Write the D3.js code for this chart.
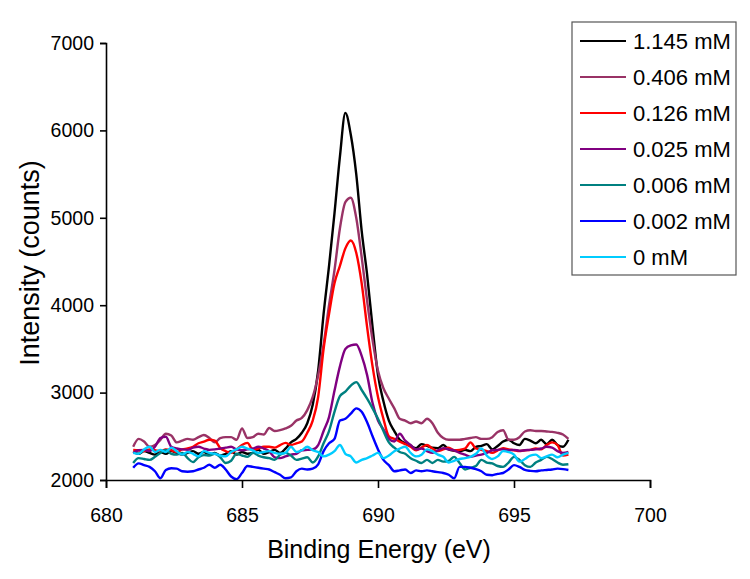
<!DOCTYPE html>
<html>
<head>
<meta charset="utf-8">
<script src="https://cdn.jsdelivr.net/npm/d3@7"></script>
<style>
  html, body { margin: 0; padding: 0; background: #fff; }
  text { font-family: "Liberation Sans", Arial, sans-serif; fill: #000; }
</style>
</head>
<body>
<svg id="chart" width="750" height="579"></svg>
<script>
// Binding energies (eV), 0.2 eV steps from 681 to 697
const energies = d3.range(81).map(i => +(681 + i * 0.2).toFixed(1));

const seriesNames = ["1.145 mM", "0.406 mM", "0.126 mM", "0.025 mM", "0.006 mM", "0.002 mM", "0 mM"];
const seriesColors = ["#000000", "#993366", "#FF0000", "#800080", "#008080", "#0000FF", "#00CCFF"];

const s1145 = [
  2320, 2300, 2330, 2310, 2290, 2320, 2300, 2330, 2310, 2290,
  2310, 2330, 2300, 2320, 2290, 2310, 2280, 2300, 2330, 2290,
  2320, 2300, 2310, 2345, 2300, 2320, 2345, 2310, 2360, 2430,
  2470, 2540, 2650, 2860, 3250, 3900, 4450, 5050, 5700, 6200,
  5950, 5500, 4850, 4350, 3750, 3200, 2900, 2680, 2560, 2460,
  2420, 2390, 2365, 2410, 2390, 2370, 2365, 2400, 2350, 2335,
  2330, 2345, 2330, 2380, 2390, 2410, 2350, 2390, 2440, 2460,
  2420, 2400, 2470, 2450, 2420, 2460, 2410, 2460, 2400, 2380,
  2460
];
const s0406 = [
  2380, 2470, 2440, 2380, 2400, 2460, 2530, 2510, 2430, 2450,
  2470, 2460, 2490, 2515, 2480, 2430, 2480, 2490, 2490, 2460,
  2590, 2480, 2490, 2530, 2520, 2595, 2560, 2570, 2590, 2620,
  2680, 2710, 2800, 2950, 3200, 3550, 4000, 4400, 4880, 5180,
  5230, 5000, 4550, 4050, 3600, 3250, 3050, 2930, 2820, 2700,
  2680, 2650, 2670, 2650, 2700, 2650, 2540, 2480, 2460, 2460,
  2460, 2470, 2480, 2490, 2470, 2470, 2490, 2550, 2570, 2460,
  2460, 2490, 2555, 2570, 2560, 2560, 2555, 2550, 2540, 2520,
  2470
];
const s0126 = [
  2345, 2340, 2330, 2350, 2340, 2330, 2350, 2340, 2320, 2350,
  2360, 2380, 2420, 2440, 2460, 2450, 2365, 2330, 2310, 2350,
  2400, 2425, 2345, 2360, 2380, 2380, 2370, 2400, 2425, 2400,
  2420, 2440, 2540, 2680, 2950, 3500, 3900, 4250, 4450, 4650,
  4740, 4600, 4250, 3750, 3300, 2950, 2700, 2500, 2470, 2440,
  2410, 2380, 2340, 2370, 2400, 2360, 2330, 2350, 2370, 2340,
  2345, 2360, 2430, 2360, 2345, 2330, 2310, 2340, 2365, 2350,
  2340, 2330, 2340, 2345, 2360, 2350, 2400, 2430, 2400, 2280,
  2290
];
const s0025 = [
  2310, 2340, 2345, 2330, 2380, 2480, 2495, 2380, 2360, 2350,
  2345, 2370, 2380, 2360, 2345, 2350, 2360, 2370, 2380, 2350,
  2340, 2350, 2360, 2380, 2360, 2330, 2260, 2250, 2270, 2290,
  2300, 2340, 2345, 2350, 2400, 2560, 2720, 3020, 3300, 3500,
  3540, 3550, 3420, 3200, 2880, 2680, 2580, 2470, 2440, 2530,
  2450, 2400, 2350, 2360, 2330, 2310, 2340, 2365, 2350, 2340,
  2310, 2290, 2265, 2280, 2290, 2310, 2340, 2345, 2350, 2340,
  2345, 2335, 2340, 2345, 2350, 2360, 2380, 2370, 2330, 2310,
  2320
];
const s0006 = [
  2195, 2250, 2240, 2230, 2265, 2310, 2345, 2300, 2290, 2310,
  2250, 2205, 2260, 2285, 2280, 2300, 2260, 2195, 2220, 2300,
  2280, 2265, 2310, 2280, 2260, 2250, 2230, 2290, 2310, 2280,
  2230, 2245, 2260, 2200, 2270, 2420, 2560, 2780, 2960, 3010,
  3080, 3120, 3030, 2930, 2820, 2700, 2560, 2430, 2370, 2320,
  2300, 2250, 2220, 2195, 2230, 2195, 2230, 2210, 2220, 2265,
  2195, 2120, 2140, 2160, 2230, 2200, 2190, 2160, 2150, 2200,
  2265, 2230, 2170, 2150, 2200, 2230, 2265, 2240, 2200, 2175,
  2180
];
const s0002 = [
  2140, 2190, 2170, 2150, 2100, 2020, 2115, 2135, 2130, 2100,
  2095, 2100, 2120, 2140, 2175, 2140, 2175, 2120, 2040, 2010,
  2080, 2160, 2150, 2140, 2130, 2120, 2090, 2060, 2020, 2030,
  2100, 2130, 2120, 2130, 2180, 2330, 2420, 2470, 2680, 2700,
  2760, 2820, 2780, 2660, 2500, 2350, 2230, 2170, 2100, 2110,
  2120, 2080, 2110, 2100, 2110, 2100, 2090, 2080, 2060, 2020,
  2150, 2150, 2140, 2125, 2100, 2060, 2055, 2070, 2080, 2120,
  2170, 2150, 2115, 2105, 2100, 2110, 2115, 2120, 2130, 2125,
  2115
];
const s0 = [
  2310, 2300, 2350, 2380, 2320, 2345, 2320, 2370, 2330, 2290,
  2320, 2300, 2270, 2330, 2310, 2300, 2280, 2270, 2320, 2350,
  2380, 2360, 2340, 2310, 2320, 2330, 2310, 2300, 2310, 2380,
  2320, 2340, 2380, 2340, 2320, 2270, 2290, 2330, 2400, 2300,
  2270, 2200, 2230, 2250, 2280, 2310, 2250, 2280, 2330, 2360,
  2380, 2310, 2270, 2290, 2350, 2330, 2290, 2265, 2200, 2220,
  2240, 2250, 2265, 2300, 2360, 2280, 2240, 2270, 2330, 2320,
  2290, 2210, 2240, 2280, 2290, 2250, 2270, 2290, 2260, 2290,
  2310
];
const seriesValues = [s1145, s0406, s0126, s0025, s0006, s0002, s0];

const xTicks = [680, 685, 690, 695, 700];
const yTicks = [2000, 3000, 4000, 5000, 6000, 7000];
const xTitle = "Binding Energy (eV)";
const yTitle = "Intensity (counts)";

const svg = d3.select("#chart");
svg.append("rect").attr("width", 750).attr("height", 579).attr("fill", "#fff");

const x = d3.scaleLinear().domain([680, 700]).range([106, 650]);
const y = d3.scaleLinear().domain([2000, 7000]).range([480, 43]);

// series lines
const line = d3.line().curve(d3.curveMonotoneX).x(d => x(d[0])).y(d => y(d[1]));
seriesValues.forEach((vals, i) => {
  svg.append("path")
    .datum(energies.map((e, j) => [e, vals[j]]))
    .attr("fill", "none")
    .attr("stroke", seriesColors[i])
    .attr("stroke-width", 2.4)
    .attr("stroke-linejoin", "round")
    .attr("d", line);
});

// axes
const xAxis = svg.append("g").attr("transform", "translate(0,480)")
  .call(d3.axisBottom(x).tickValues(xTicks).tickSize(8).tickPadding(20).tickFormat(d3.format("d")));
const yAxis = svg.append("g").attr("transform", "translate(106,0)")
  .call(d3.axisLeft(y).tickValues(yTicks).tickSize(6).tickPadding(6).tickFormat(d3.format("d")));
[xAxis, yAxis].forEach(g => {
  g.selectAll("path").attr("stroke", "#000").attr("stroke-width", 1.6);
  g.selectAll("line").attr("stroke", "#000").attr("stroke-width", 1.6);
  g.selectAll("text").attr("font-size", 19.5).attr("font-family", "Liberation Sans, Arial, sans-serif").attr("fill", "#000");
});

// titles
svg.append("text").attr("x", 379).attr("y", 558).attr("text-anchor", "middle")
  .attr("font-size", 25).text(xTitle);
svg.append("text").attr("transform", "translate(39,263) rotate(-90)").attr("text-anchor", "middle")
  .attr("font-size", 27).text(yTitle);

// legend
const lg = svg.append("g");
lg.append("rect").attr("x", 572).attr("y", 22).attr("width", 164).attr("height", 253)
  .attr("fill", "#fff").attr("stroke", "#555").attr("stroke-width", 1.2);
const ly = d3.scalePoint().domain(seriesNames).range([41, 257]);
seriesNames.forEach((n, i) => {
  lg.append("line").attr("x1", 580).attr("x2", 626).attr("y1", ly(n)).attr("y2", ly(n))
    .attr("stroke", seriesColors[i]).attr("stroke-width", 2);
  lg.append("text").attr("x", 633).attr("y", ly(n)).attr("dy", "0.36em")
    .attr("font-size", 22).text(n);
});
</script>
</body>
</html>
